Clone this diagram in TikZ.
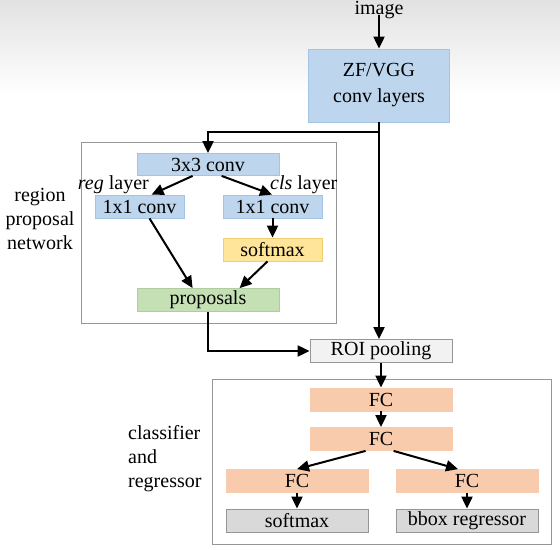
\documentclass[tikz,border=0pt]{standalone}
\usepackage{fontspec}
\setmainfont{Liberation Serif}
\newfontfamily\tnrfont{Liberation Serif}
\usetikzlibrary{arrows.meta,calc}
\definecolor{bluefill}{RGB}{189,214,238}
\definecolor{blueline}{RGB}{165,195,228}
\definecolor{yellowfill}{RGB}{255,229,153}
\definecolor{yellowline}{RGB}{240,205,110}
\definecolor{greenfill}{RGB}{197,224,180}
\definecolor{greenline}{RGB}{175,205,160}
\definecolor{salmonfill}{RGB}{248,203,173}
\definecolor{grayfill}{RGB}{217,217,217}
\definecolor{grayline}{RGB}{150,150,150}
\definecolor{roifill}{RGB}{242,242,242}
\definecolor{bgtop}{RGB}{226,226,226}
\begin{document}
\begin{tikzpicture}[x=1bp,y=-1bp,
  txt/.style={font=\tnrfont\fontsize{20bp}{24bp}\selectfont, inner sep=0pt},
  box/.style={txt, minimum height=23bp, line width=0.8bp},
  bluebox/.style={box, fill=bluefill, draw=blueline},
  yellowbox/.style={box, fill=yellowfill, draw=yellowline},
  greenbox/.style={box, fill=greenfill, draw=greenline},
  fcbox/.style={box, fill=salmonfill, draw=salmonfill},
  graybox/.style={box, fill=grayfill, draw=grayline},
  roibox/.style={box, fill=roifill, draw=grayline},
  group/.style={draw=grayline, line width=1bp},
  arr/.style={line width=2bp, -{Triangle[length=12bp,width=11bp]}},
  ln/.style={line width=2bp}]
\useasboundingbox (0,0) rectangle (560,550);
\fill[white] (0,0) rectangle (560,550);
\shade[top color=bgtop, bottom color=white] (0,0) rectangle (560,95);

% groups
\node[group, minimum width=255bp, minimum height=180bp, inner sep=0pt] (rpn) at (208.5,233) {};
\node[group, minimum width=339bp, minimum height=165bp, inner sep=0pt] (cls) at (381.5,461.5) {};

% top
\node[txt] (img) at (379,10) {image};
\node[bluebox, minimum width=141bp, minimum height=73bp, align=center,
      font=\tnrfont\fontsize{20bp}{26bp}\selectfont] (zf) at (379,85.5) {ZF/VGG\\conv layers};

% RPN
\node[bluebox, minimum width=142bp, minimum height=22bp] (c33) at (208,164.5) {3x3 conv};
\node[bluebox, minimum width=89bp] (reg) at (139.5,206.5) {1x1 conv};
\node[bluebox, minimum width=99bp] (clsc) at (272.5,206.5) {1x1 conv};
\node[yellowbox, minimum width=99bp] (sm1) at (272.5,249.5) {softmax};
\node[greenbox, minimum width=142bp] (prop) at (208,300) {proposals};
\node[txt, anchor=east] (regl) at (149,185) {\textit{reg} layer};
\node[txt, anchor=west] (clsl) at (270,185) {\textit{cls} layer};
\node[txt, align=center] (rpnl) at (40,219) {region\\proposal\\network};

% ROI
\node[roibox, minimum width=142bp, minimum height=23bp] (roi) at (381,351) {ROI pooling};

% classifier
\node[fcbox, minimum width=142bp] (fc1) at (381,399.5) {FC};
\node[fcbox, minimum width=142bp] (fc2) at (381,439) {FC};
\node[fcbox, minimum width=142bp] (fc3) at (297,481) {FC};
\node[fcbox, minimum width=142bp] (fc4) at (467,481) {FC};
\node[graybox, minimum width=142bp] (sm2) at (297,520.5) {softmax};
\node[graybox, minimum width=142bp] (bbox) at (467,520.5) {bbox regressor};
\node[txt, align=left, anchor=west] (clsr) at (128,459) {classifier\\and\\regressor};

% connectors
\coordinate (split) at (379,132);
\draw[arr] (img.south) ++(0,4bp) -- (zf.north);
\draw[ln] (zf.south) -- (split);
\draw[arr] (split) -| (c33.north);
\draw[arr] (split) -- (split |- roi.north);
\draw[arr] ([xshift=56bp]c33.south west) -- ([xshift=57bp]reg.south west |- reg.north);
\draw[arr] ([xshift=85bp]c33.south west) -- ([xshift=-0.5bp]clsc.north);
\draw[arr] ([xshift=10bp]reg.south) -- ([xshift=56bp]prop.north west);
\draw[arr] (clsc.south) -- (sm1.north);
\draw[arr] ([xshift=-5bp]sm1.south) -- ([xshift=103bp]prop.north west);
\draw[arr] (prop.south) |- (roi.west);
\draw[arr] (roi.south) -- (fc1.north);
\draw[arr] (fc1.south) -- (fc2.north);
\draw[arr] ([xshift=56bp]fc2.south west) -- (fc3.north);
\draw[arr] ([xshift=84bp]fc2.south west) -- ([xshift=-9bp]fc4.north);
\draw[arr] (fc3.south) -- (sm2.north);
\draw[arr] (fc4.south) -- (bbox.north);
\end{tikzpicture}
\end{document}
